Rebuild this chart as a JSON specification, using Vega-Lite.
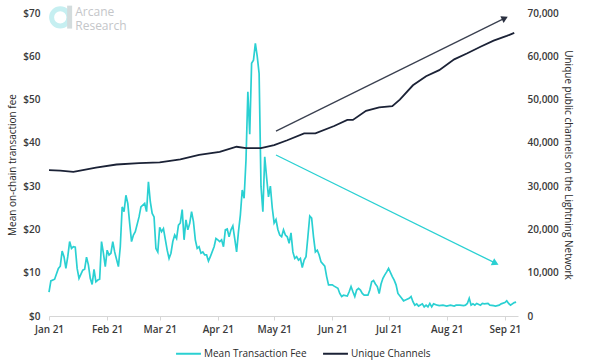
{
  "$schema": "https://vega.github.io/schema/vega-lite/v6.json",
  "width": 469,
  "height": 303,
  "autosize": {"type": "none"},
  "padding": {"left": 49, "top": 13, "right": 82, "bottom": 47},
  "background": "white",
  "config": {
    "view": {"stroke": null},
    "font": "Open Sans",
    "axis": {"labelFont": "Open Sans", "titleFont": "Open Sans", "labelFontSize": 10, "labelFontWeight": 600, "labelColor": "#3a3a3a", "titleFontSize": 10, "titleFontWeight": "normal", "titleColor": "#2a2a2a", "grid": false},
    "legend": {"labelFont": "Open Sans", "labelFontSize": 10, "labelColor": "#2a2a2a", "symbolType": "stroke", "symbolStrokeWidth": 2, "symbolSize": 620, "labelOffset": 2, "columnPadding": 12}
  },
  "datasets": {
    "fee": [
      {"date":"2021-01-01","fee":5.5},{"date":"2021-01-02","fee":8.1},{"date":"2021-01-04","fee":8.5},{"date":"2021-01-06","fee":11.0},{"date":"2021-01-07","fee":11.5},{"date":"2021-01-08","fee":15.0},{"date":"2021-01-09","fee":13.7},{"date":"2021-01-10","fee":11.0},{"date":"2021-01-11","fee":13.7},{"date":"2021-01-12","fee":17.2},{"date":"2021-01-13","fee":15.6},{"date":"2021-01-14","fee":16.0},{"date":"2021-01-15","fee":15.9},{"date":"2021-01-16","fee":11.0},{"date":"2021-01-17","fee":8.7},{"date":"2021-01-19","fee":10.6},{"date":"2021-01-20","fee":10.8},{"date":"2021-01-21","fee":13.6},{"date":"2021-01-22","fee":11.8},{"date":"2021-01-23","fee":8.7},{"date":"2021-01-24","fee":7.3},{"date":"2021-01-25","fee":10.8},{"date":"2021-01-26","fee":7.9},{"date":"2021-01-27","fee":8.3},{"date":"2021-01-28","fee":8.5},{"date":"2021-01-29","fee":17.2},{"date":"2021-01-30","fee":14.5},{"date":"2021-01-31","fee":11.4},
      {"date":"2021-02-01","fee":15.2},{"date":"2021-02-02","fee":14.1},{"date":"2021-02-03","fee":14.5},{"date":"2021-02-04","fee":17.2},{"date":"2021-02-05","fee":14.8},{"date":"2021-02-07","fee":11.4},{"date":"2021-02-08","fee":16.0},{"date":"2021-02-09","fee":25.2},{"date":"2021-02-10","fee":24.1},{"date":"2021-02-11","fee":27.9},{"date":"2021-02-12","fee":26.0},{"date":"2021-02-13","fee":21.4},{"date":"2021-02-14","fee":17.2},{"date":"2021-02-15","fee":18.7},{"date":"2021-02-16","fee":19.5},{"date":"2021-02-18","fee":22.9},{"date":"2021-02-19","fee":25.2},{"date":"2021-02-21","fee":26.0},{"date":"2021-02-22","fee":24.1},{"date":"2021-02-23","fee":31.0},{"date":"2021-02-24","fee":26.4},{"date":"2021-02-25","fee":23.7},{"date":"2021-02-26","fee":22.9},{"date":"2021-02-27","fee":15.6},{"date":"2021-02-28","fee":14.8},
      {"date":"2021-03-01","fee":20.5},{"date":"2021-03-02","fee":19.5},{"date":"2021-03-03","fee":20.2},{"date":"2021-03-05","fee":15.2},{"date":"2021-03-06","fee":13.3},{"date":"2021-03-07","fee":14.5},{"date":"2021-03-08","fee":17.2},{"date":"2021-03-09","fee":18.7},{"date":"2021-03-10","fee":17.9},{"date":"2021-03-11","fee":21.0},{"date":"2021-03-12","fee":21.5},{"date":"2021-03-13","fee":24.6},{"date":"2021-03-14","fee":17.6},{"date":"2021-03-15","fee":22.2},{"date":"2021-03-16","fee":19.9},{"date":"2021-03-17","fee":21.4},{"date":"2021-03-18","fee":24.1},{"date":"2021-03-19","fee":21.8},{"date":"2021-03-20","fee":17.6},{"date":"2021-03-21","fee":15.6},{"date":"2021-03-22","fee":16.0},{"date":"2021-03-23","fee":14.5},{"date":"2021-03-24","fee":14.8},{"date":"2021-03-25","fee":14.1},{"date":"2021-03-26","fee":14.1},{"date":"2021-03-27","fee":12.7},{"date":"2021-03-28","fee":13.7},{"date":"2021-03-30","fee":16.0},{"date":"2021-03-31","fee":17.9},
      {"date":"2021-04-01","fee":17.6},{"date":"2021-04-02","fee":17.2},{"date":"2021-04-03","fee":17.6},{"date":"2021-04-04","fee":16.0},{"date":"2021-04-05","fee":19.9},{"date":"2021-04-06","fee":20.1},{"date":"2021-04-07","fee":18.3},{"date":"2021-04-08","fee":19.9},{"date":"2021-04-09","fee":20.8},{"date":"2021-04-10","fee":17.9},{"date":"2021-04-11","fee":14.8},{"date":"2021-04-12","fee":19.5},{"date":"2021-04-13","fee":23.3},{"date":"2021-04-14","fee":29.1},{"date":"2021-04-15","fee":27.2},{"date":"2021-04-16","fee":36.0},{"date":"2021-04-17","fee":51.8},{"date":"2021-04-18","fee":42.0},{"date":"2021-04-19","fee":58.4},{"date":"2021-04-20","fee":59.1},{"date":"2021-04-21","fee":63.0},{"date":"2021-04-22","fee":60.0},{"date":"2021-04-23","fee":56.0},{"date":"2021-04-24","fee":30.0},{"date":"2021-04-25","fee":24.1},{"date":"2021-04-26","fee":36.8},{"date":"2021-04-27","fee":32.0},{"date":"2021-04-28","fee":27.5},{"date":"2021-04-29","fee":30.0},{"date":"2021-04-30","fee":25.0},
      {"date":"2021-05-01","fee":21.5},{"date":"2021-05-02","fee":22.3},{"date":"2021-05-03","fee":20.0},{"date":"2021-05-04","fee":18.7},{"date":"2021-05-05","fee":18.3},{"date":"2021-05-06","fee":19.9},{"date":"2021-05-07","fee":18.7},{"date":"2021-05-08","fee":18.3},{"date":"2021-05-09","fee":16.8},{"date":"2021-05-10","fee":19.2},{"date":"2021-05-11","fee":14.8},{"date":"2021-05-12","fee":13.3},{"date":"2021-05-13","fee":13.7},{"date":"2021-05-14","fee":12.9},{"date":"2021-05-15","fee":13.3},{"date":"2021-05-16","fee":11.2},{"date":"2021-05-17","fee":12.9},{"date":"2021-05-18","fee":13.7},{"date":"2021-05-19","fee":18.3},{"date":"2021-05-20","fee":23.1},{"date":"2021-05-21","fee":22.6},{"date":"2021-05-22","fee":18.3},{"date":"2021-05-23","fee":14.8},{"date":"2021-05-24","fee":15.2},{"date":"2021-05-25","fee":14.1},{"date":"2021-05-26","fee":12.5},{"date":"2021-05-28","fee":11.5},{"date":"2021-05-29","fee":9.1},{"date":"2021-05-30","fee":7.2},
      {"date":"2021-06-01","fee":7.2},{"date":"2021-06-02","fee":6.9},{"date":"2021-06-04","fee":6.4},{"date":"2021-06-05","fee":5.2},{"date":"2021-06-06","fee":4.5},{"date":"2021-06-07","fee":4.8},{"date":"2021-06-09","fee":4.6},{"date":"2021-06-10","fee":5.6},{"date":"2021-06-11","fee":6.8},{"date":"2021-06-12","fee":5.6},{"date":"2021-06-13","fee":4.5},{"date":"2021-06-14","fee":6.0},{"date":"2021-06-15","fee":6.4},{"date":"2021-06-16","fee":6.0},{"date":"2021-06-17","fee":5.2},{"date":"2021-06-18","fee":4.8},{"date":"2021-06-20","fee":4.8},{"date":"2021-06-21","fee":6.0},{"date":"2021-06-22","fee":7.9},{"date":"2021-06-23","fee":8.2},{"date":"2021-06-24","fee":7.4},{"date":"2021-06-25","fee":6.8},{"date":"2021-06-26","fee":5.2},{"date":"2021-06-27","fee":7.4},{"date":"2021-06-28","fee":8.7},{"date":"2021-06-29","fee":9.5},{"date":"2021-06-30","fee":10.2},
      {"date":"2021-07-01","fee":11.0},{"date":"2021-07-03","fee":9.1},{"date":"2021-07-04","fee":8.3},{"date":"2021-07-05","fee":7.2},{"date":"2021-07-06","fee":5.2},{"date":"2021-07-08","fee":4.1},{"date":"2021-07-09","fee":3.5},{"date":"2021-07-10","fee":3.7},{"date":"2021-07-12","fee":4.1},{"date":"2021-07-13","fee":4.5},{"date":"2021-07-14","fee":3.3},{"date":"2021-07-15","fee":2.5},{"date":"2021-07-16","fee":2.8},{"date":"2021-07-17","fee":2.3},{"date":"2021-07-19","fee":2.8},{"date":"2021-07-20","fee":2.1},{"date":"2021-07-21","fee":2.5},{"date":"2021-07-22","fee":2.1},{"date":"2021-07-23","fee":2.9},{"date":"2021-07-24","fee":2.1},{"date":"2021-07-25","fee":2.8},{"date":"2021-07-27","fee":2.5},{"date":"2021-07-28","fee":2.4},{"date":"2021-07-30","fee":2.5},
      {"date":"2021-08-01","fee":2.3},{"date":"2021-08-03","fee":2.5},{"date":"2021-08-05","fee":2.3},{"date":"2021-08-06","fee":2.5},{"date":"2021-08-08","fee":2.5},{"date":"2021-08-10","fee":2.4},{"date":"2021-08-11","fee":2.5},{"date":"2021-08-12","fee":2.9},{"date":"2021-08-13","fee":4.1},{"date":"2021-08-14","fee":2.5},{"date":"2021-08-15","fee":2.8},{"date":"2021-08-16","fee":2.5},{"date":"2021-08-17","fee":2.9},{"date":"2021-08-19","fee":2.5},{"date":"2021-08-20","fee":2.9},{"date":"2021-08-21","fee":2.8},{"date":"2021-08-23","fee":2.9},{"date":"2021-08-24","fee":2.5},{"date":"2021-08-26","fee":2.4},{"date":"2021-08-27","fee":2.3},{"date":"2021-08-29","fee":2.5},{"date":"2021-08-30","fee":2.8},
      {"date":"2021-09-01","fee":3.1},{"date":"2021-09-02","fee":3.5},{"date":"2021-09-03","fee":2.9},{"date":"2021-09-04","fee":2.5},{"date":"2021-09-06","fee":3.1},{"date":"2021-09-07","fee":3.2}
    ],
    "channels": [
      {"date":"2021-01-01","channels":33700},{"date":"2021-01-07","channels":33600},{"date":"2021-01-14","channels":33300},{"date":"2021-01-19","channels":33700},{"date":"2021-01-26","channels":34300},{"date":"2021-02-06","channels":35000},{"date":"2021-02-18","channels":35300},{"date":"2021-03-01","channels":35500},{"date":"2021-03-12","channels":36200},{"date":"2021-03-22","channels":37200},{"date":"2021-04-02","channels":37900},{"date":"2021-04-11","channels":39100},{"date":"2021-04-16","channels":38800},{"date":"2021-04-24","channels":38800},{"date":"2021-05-01","channels":39500},{"date":"2021-05-08","channels":40600},{"date":"2021-05-17","channels":42200},{"date":"2021-05-23","channels":42200},{"date":"2021-06-02","channels":43900},{"date":"2021-06-09","channels":45300},{"date":"2021-06-12","channels":45300},{"date":"2021-06-19","channels":47400},{"date":"2021-06-26","channels":48200},{"date":"2021-07-03","channels":48500},{"date":"2021-07-07","channels":50000},{"date":"2021-07-14","channels":53300},{"date":"2021-07-21","channels":55400},{"date":"2021-07-28","channels":56800},{"date":"2021-08-05","channels":59300},{"date":"2021-08-12","channels":60700},{"date":"2021-08-19","channels":62200},{"date":"2021-08-26","channels":63600},{"date":"2021-09-02","channels":64700},{"date":"2021-09-06","channels":65400}
    ]
  },
  "layer": [
    {
      "layer": [
        {
          "data": {"name": "fee"},
          "mark": {"type": "line", "strokeWidth": 1.7},
          "encoding": {
            "x": {"field": "date", "type": "temporal", "scale": {"domain": ["2021-01-01", "2021-09-08"]}, "axis": {"format": "%b %y", "tickCount": {"interval": "month", "step": 1}, "title": null, "domainColor": "#d6d6d6", "tickColor": "#d6d6d6", "tickSize": 4, "labelPadding": 4, "labelFlush": false}},
            "y": {"field": "fee", "type": "quantitative", "scale": {"domain": [0, 70]}, "title": "Mean on-chain transaction fee", "axis": {"values": [0, 10, 20, 30, 40, 50, 60, 70], "labelExpr": "'$' + datum.value", "domain": false, "ticks": false, "labelPadding": 9, "titlePadding": 5}},
            "color": {"datum": "Mean Transaction Fee", "scale": {"domain": ["Mean Transaction Fee", "Unique Channels"], "range": ["#2ad0d2", "#1b2236"]}, "legend": {"title": null, "orient": "none", "legendX": 126, "legendY": 327, "direction": "horizontal"}}
          }
        },
        {
          "data": {"values": [{"date": "2021-05-02", "fee": 42.7, "date2": "2021-09-01", "fee2": 68.8}]},
          "mark": {"type": "rule", "color": "#3a4050", "strokeWidth": 1.3},
          "encoding": {
            "x": {"field": "date", "type": "temporal"},
            "x2": {"field": "date2"},
            "y": {"field": "fee", "type": "quantitative", "scale": {"domain": [0, 70]}, "title": "Mean on-chain transaction fee"},
            "y2": {"field": "fee2"}
          }
        },
        {
          "data": {"values": [{"date": "2021-09-01", "fee": 68.8}]},
          "mark": {"type": "point", "shape": "triangle-right", "filled": true, "opacity": 1, "color": "#2a3040", "size": 55, "angle": 334},
          "encoding": {
            "x": {"field": "date", "type": "temporal"},
            "y": {"field": "fee", "type": "quantitative", "scale": {"domain": [0, 70]}, "title": "Mean on-chain transaction fee"}
          }
        },
        {
          "data": {"values": [{"date": "2021-05-02", "fee": 37.2, "date2": "2021-08-27", "fee2": 12.2}]},
          "mark": {"type": "rule", "color": "#2ad0d2", "strokeWidth": 1.3},
          "encoding": {
            "x": {"field": "date", "type": "temporal"},
            "x2": {"field": "date2"},
            "y": {"field": "fee", "type": "quantitative", "scale": {"domain": [0, 70]}, "title": "Mean on-chain transaction fee"},
            "y2": {"field": "fee2"}
          }
        },
        {
          "data": {"values": [{"date": "2021-08-27", "fee": 12.2}]},
          "mark": {"type": "point", "shape": "triangle-right", "filled": true, "opacity": 1, "color": "#2ad0d2", "size": 60, "angle": 26},
          "encoding": {
            "x": {"field": "date", "type": "temporal"},
            "y": {"field": "fee", "type": "quantitative", "scale": {"domain": [0, 70]}, "title": "Mean on-chain transaction fee"}
          }
        },
        {
          "data": {"values": [{"date": "2021-01-07", "fee": 69.0}]},
          "mark": {"type": "point", "shape": "circle", "filled": false, "opacity": 1, "color": "#c6eff1", "strokeWidth": 5, "size": 300, "clip": false},
          "encoding": {
            "x": {"field": "date", "type": "temporal"},
            "y": {"field": "fee", "type": "quantitative", "scale": {"domain": [0, 70]}, "title": "Mean on-chain transaction fee"}
          }
        },
        {
          "data": {"values": [{"date": "2021-01-12", "fee": 71.7, "fee2": 66.4}]},
          "mark": {"type": "rule", "color": "#d3dcdd", "strokeWidth": 5, "clip": false},
          "encoding": {
            "x": {"field": "date", "type": "temporal"},
            "y": {"field": "fee", "type": "quantitative", "scale": {"domain": [0, 70]}, "title": "Mean on-chain transaction fee"},
            "y2": {"field": "fee2"}
          }
        },
        {
          "data": {"values": [{"date": "2021-01-15", "fee": 69.3, "label": "Arcane|Research"}]},
          "mark": {"type": "text", "align": "left", "baseline": "alphabetic", "font": "Open Sans", "fontSize": 12, "lineHeight": 14, "lineBreak": "|", "color": "#c4c6c9", "clip": false},
          "encoding": {
            "x": {"field": "date", "type": "temporal"},
            "y": {"field": "fee", "type": "quantitative", "scale": {"domain": [0, 70]}, "title": "Mean on-chain transaction fee"},
            "text": {"field": "label"}
          }
        }
      ]
    },
    {
      "data": {"name": "channels"},
      "mark": {"type": "line", "strokeWidth": 1.8},
      "encoding": {
        "x": {"field": "date", "type": "temporal"},
        "y": {"field": "channels", "type": "quantitative", "scale": {"domain": [0, 70000]}, "title": "Unique public channels on the Lightning Network", "axis": {"orient": "right", "values": [0, 10000, 20000, 30000, 40000, 50000, 60000, 70000], "format": ",.0f", "domain": false, "ticks": false, "labelPadding": 9, "titlePadding": 4}},
        "color": {"datum": "Unique Channels"}
      }
    }
  ],
  "resolve": {"scale": {"y": "independent"}}
}
